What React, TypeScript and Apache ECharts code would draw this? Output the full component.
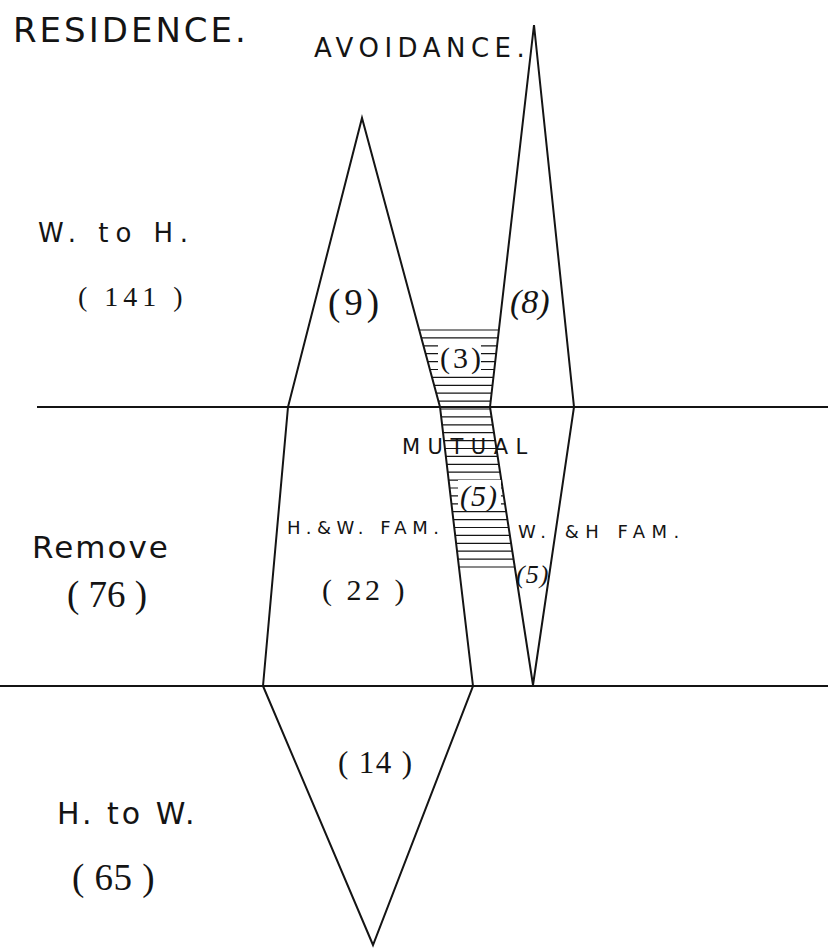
import React, { useEffect, useRef } from "react";
import * as echarts from "echarts";

// ---------- Data (drawing units: x 0–828 left→right, y 0–948 top→bottom) ----------
const dividerUpper: number[][] = [[37, 407], [828, 407]];
const dividerLower: number[][] = [[0, 686], [828, 686]];
const residenceOutline: number[][] = [
  [288, 407], [362, 118], [440, 407], [473, 686], [373, 945], [263, 686], [288, 407],
];
const avoidanceOutline: number[][] = [
  [490, 407], [534, 25], [574, 407], [533, 685], [490, 407],
];
const mutualRegion: number[][] = [
  [419, 330], [499, 330], [490, 407], [515, 567], [459, 567], [440, 407],
];

const titles = ["RESIDENCE.", "AVOIDANCE."];
const residenceClasses = ["W. to H.", "Remove", "H. to W."];
const residenceTotals = [141, 76, 65];
// cells: W.to H. residence, W.to H. avoidance, mutual (upper), mutual (lower), H.&W. fam., W.&H fam., H. to W.
const cellCounts = [9, 8, 3, 5, 22, 5, 14];
const familyLabels = ["H.&W. FAM.", "W. &H FAM."];
const mutualLabel = "MUTUAL";

// ---------- Styling / layout ----------
const INK = "#141414";
const SANS = "DejaVu Sans";
const SERIF = "Liberation Serif";
const HATCH_GAP = 7.9;

const paren = (n: number, spaced = false) => (spaced ? `( ${n} )` : `(${n})`);

type Lbl = {
  text: string; x: number; y: number; size: number; family: string;
  italic?: boolean; ls: number; bg?: boolean;
};

const labels: Lbl[] = [
  { text: titles[0], x: 13, y: 29.5, size: 34, family: SANS, ls: 3 },
  { text: titles[1], x: 314, y: 47.5, size: 26, family: SANS, ls: 5.5 },
  { text: residenceClasses[0], x: 38, y: 233, size: 26, family: SANS, ls: 7 },
  { text: paren(residenceTotals[0], true), x: 78, y: 296.5, size: 28, family: SERIF, ls: 5 },
  { text: residenceClasses[1], x: 32, y: 546.5, size: 31, family: SANS, ls: 2 },
  { text: paren(residenceTotals[1], true), x: 67, y: 594.5, size: 37, family: SERIF, ls: 0 },
  { text: residenceClasses[2], x: 57, y: 813.5, size: 30, family: SANS, ls: 3 },
  { text: paren(residenceTotals[2], true), x: 72, y: 877.5, size: 37, family: SERIF, ls: 0.5 },
  { text: paren(cellCounts[0]), x: 328, y: 302.5, size: 37, family: SERIF, ls: 4 },
  { text: paren(cellCounts[1]), x: 510, y: 301.5, size: 34, family: SERIF, italic: true, ls: 0 },
  { text: paren(cellCounts[2]), x: 438, y: 357, size: 30, family: SERIF, ls: 3, bg: true },
  { text: mutualLabel, x: 402, y: 447, size: 21, family: SANS, ls: 7.5 },
  { text: paren(cellCounts[3]), x: 458, y: 495, size: 30, family: SERIF, italic: true, ls: 1, bg: true },
  { text: familyLabels[0], x: 287, y: 527.5, size: 18, family: SANS, ls: 5.5 },
  { text: familyLabels[1], x: 518, y: 531, size: 18, family: SANS, ls: 6.5 },
  { text: paren(cellCounts[4], true), x: 322, y: 589, size: 30, family: SERIF, ls: 3.5 },
  { text: paren(cellCounts[5]), x: 516, y: 574, size: 26, family: SERIF, italic: true, ls: 1 },
  { text: paren(cellCounts[6], true), x: 338, y: 762.5, size: 31, family: SERIF, ls: 1.4 },
];

const spacingByText = new Map<string, number>();
labels.forEach((l) => spacingByText.set(l.text.trim(), l.ls));

function crossings(pts: number[][], y: number): number[] {
  const xs: number[] = [];
  for (let i = 0; i < pts.length; i++) {
    const a = pts[i];
    const b = pts[(i + 1) % pts.length];
    if ((a[1] <= y && b[1] > y) || (b[1] <= y && a[1] > y)) {
      xs.push(a[0] + ((y - a[1]) * (b[0] - a[0])) / (b[1] - a[1]));
    }
  }
  return xs.sort((p, q) => p - q);
}

const outlineSeries = (data: number[][]) => ({
  type: "line",
  data,
  symbol: "none",
  silent: true,
  clip: false,
  lineStyle: { color: INK, width: 2, join: "miter" },
});

export default function App() {
  const ref = useRef<HTMLDivElement>(null);

  useEffect(() => {
    const el = ref.current;
    if (!el) return;
    const chart = echarts.init(el, undefined, { renderer: "svg" });

    const option: any = {
      animation: false,
      backgroundColor: "#ffffff",
      grid: { left: 0, right: 0, top: 0, bottom: 0 },
      xAxis: { type: "value", min: 0, max: 828, show: false },
      yAxis: { type: "value", min: 0, max: 948, inverse: true, show: false },
      series: [
        outlineSeries(dividerUpper),
        outlineSeries(dividerLower),
        outlineSeries(residenceOutline),
        outlineSeries(avoidanceOutline),
        {
          type: "custom",
          coordinateSystem: "cartesian2d",
          silent: true,
          data: [mutualRegion[0]],
          renderItem: (_params: any, api: any) => {
            const pts = mutualRegion.map((p) => api.coord(p));
            const ys = pts.map((p: number[]) => p[1]);
            const top = Math.min(...ys);
            const bottom = Math.max(...ys);
            const n = Math.max(1, Math.round((bottom - top) / HATCH_GAP));
            const step = (bottom - top) / n;
            const children: any[] = [];
            for (let i = 0; i <= n; i++) {
              const y = top + i * step;
              const yy = Math.min(Math.max(y, top + 0.01), bottom - 0.01);
              const xs = crossings(pts, yy);
              for (let k = 0; k + 1 < xs.length; k += 2) {
                children.push({
                  type: "line",
                  shape: { x1: xs[k], y1: y, x2: xs[k + 1], y2: y },
                  style: { stroke: INK, lineWidth: 1.2 },
                });
              }
            }
            return { type: "group", children };
          },
        },
        {
          type: "custom",
          coordinateSystem: "cartesian2d",
          silent: true,
          z: 10,
          data: labels.map((l, i) => [l.x, l.y, i]),
          renderItem: (params: any, api: any) => {
            const l = labels[params.dataIndex];
            const p = api.coord([l.x, l.y]);
            const style: any = {
              text: l.text,
              fill: INK,
              fontSize: l.size,
              fontFamily: l.family,
              fontStyle: l.italic ? "italic" : "normal",
              align: "left",
              verticalAlign: "middle",
            };
            if (l.bg) {
              style.backgroundColor = "#ffffff";
              style.padding = [0, 6, 0, 2];
            }
            return { type: "text", x: p[0], y: p[1], style };
          },
        },
      ],
    };

    const applySpacing = () => {
      el.querySelectorAll("text").forEach((t) => {
        const s = spacingByText.get((t.textContent || "").trim());
        if (s != null) (t as SVGTextElement).style.letterSpacing = `${s}px`;
      });
    };
    chart.on("finished", applySpacing);
    chart.setOption(option);
    applySpacing();

    return () => {
      chart.dispose();
    };
  }, []);

  return (
    <div
      ref={ref}
      style={{ position: "fixed", left: 0, top: 0, width: 828, height: 948, background: "#fff" }}
    />
  );
}
